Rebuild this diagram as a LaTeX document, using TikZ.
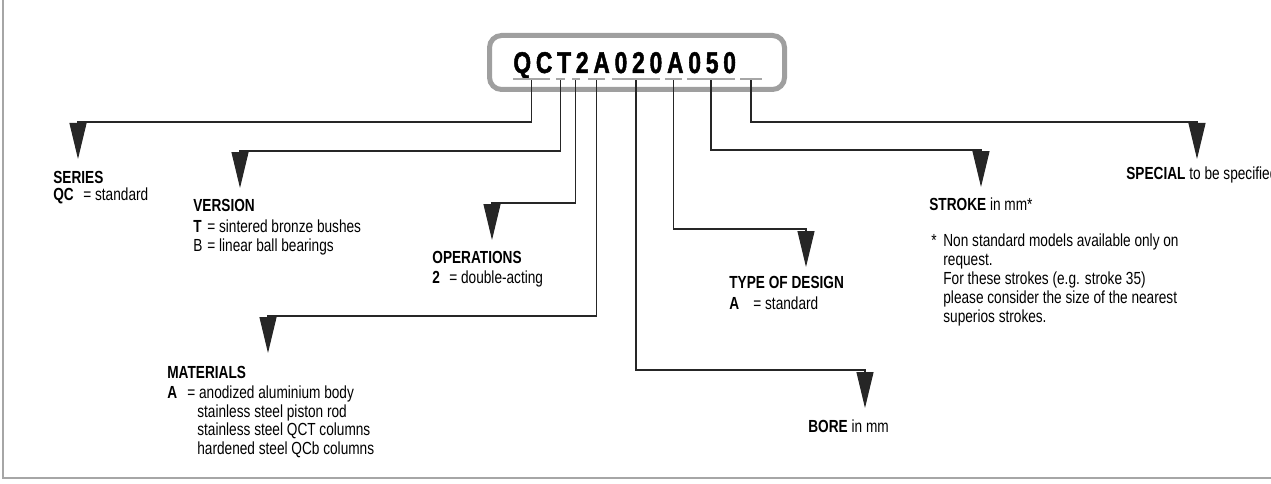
\documentclass[tikz,border=0pt]{standalone}
\usepackage{fontspec}
\setmainfont[FakeStretch=0.78]{Liberation Sans}
\newfontfamily\codefont[FakeStretch=0.76,LetterSpace=16,FakeBold=1.5]{Liberation Sans}
\usetikzlibrary{arrows.meta}
\tikzset{every picture/.style={line width=0.75pt}}
\newcommand{\codeitem}[2]{\makebox[#1][l]{#2}=\ }

\begin{document}
\begin{tikzpicture}[x=1pt,y=-1pt,
        seg/.style={fill=gray!70, inner sep=0pt, minimum height=2pt},
        link/.style={draw=black!85, line width=1.1pt, -{Triangle[width=17pt,length=36pt]}},
        lbl/.style={anchor=north west, inner sep=0pt, align=left, font=\fontsize{17.5}{18.5}\selectfont},
        keybox/.style={draw=gray!75, line width=5pt, rounded corners=12pt}]
        \useasboundingbox (0,0) rectangle (1271,484);
        \draw[gray!70, line width=2pt] (3,0) -- (3,478) -- (1271,478);

        % order code
        \node[keybox, minimum width=295pt, minimum height=54pt] (box) at (637,62.5) {};
        \node[anchor=base west, inner sep=0pt, font=\codefont\fontsize{30}{30}\selectfont\bfseries] (code) at (513,73) {QCT2A020A050};

        \node[seg, minimum width=37pt] (qc) at (531.5,79) {};
        \node[seg, minimum width=9pt] (tv) at (560.5,79) {};
        \node[seg, minimum width=8pt] (op) at (575.5,79) {};
        \node[seg, minimum width=17pt] (mat) at (596.5,79) {};
        \node[seg, minimum width=48pt] (bo) at (636,79) {};
        \node[seg, minimum width=17pt] (ty) at (673.5,79) {};
        \node[seg, minimum width=48pt] (st) at (711,79) {};
        \node[seg, minimum width=22pt] (sp) at (751,79) {};

        % arrow heads
        \coordinate (series-a) at (78,122);
        \coordinate (version-a) at (240,151);
        \coordinate (operations-a) at (492,203);
        \coordinate (materials-a) at (268,316);
        \coordinate (bore-a) at (865,370);
        \coordinate (design-a) at (806,229);
        \coordinate (stroke-a) at (981,150);
        \coordinate (special-a) at (1197,122);

        % labels
        \node[lbl] (series) at (53,171) {\textbf{SERIES}\\[-2pt]\codeitem{30pt}{\textbf{QC}}standard};
        \node[lbl] (version) at (193,199) {\textbf{VERSION}\\[2.5pt]\codeitem{14pt}{\textbf{T}}sintered bronze bushes\\\codeitem{14pt}{B}linear ball bearings};
        \node[lbl] (operations) at (432,251) {\textbf{OPERATIONS}\\[1.5pt]\codeitem{17pt}{\textbf{2}}double-acting};
        \node[lbl] (materials) at (167,366) {\textbf{MATERIALS}\\[1.5pt]\codeitem{20pt}{\textbf{A}}anodized aluminium body\\\hspace*{30pt}stainless steel piston rod\\\hspace*{30pt}stainless steel QCT columns\\\hspace*{30pt}hardened steel QCb columns};
        \node[lbl] (design) at (729,276) {\textbf{TYPE OF DESIGN}\\[2.5pt]\codeitem{24pt}{\textbf{A}}standard};
        \node[lbl] (bore) at (808,419) {\textbf{BORE} in mm};
        \node[lbl] (stroke) at (929,197) {\textbf{STROKE} in mm*};
        \node[lbl, font=\fontsize{17.5}{19}\selectfont] (note) at (931,233) {\makebox[12pt][l]{*}Non standard models available only on\\\hspace*{12pt}request.\\\hspace*{12pt}For these strokes (e.g. stroke 35)\\\hspace*{12pt}please consider the size of the nearest\\\hspace*{12pt}superios strokes.};
        \node[lbl] (special) at (1126,166) {\textbf{SPECIAL} to be specified};

        % connectors
        \draw[link] (qc) |- (series-a) -- ++(0,37);
        \draw[link] (tv) |- (version-a) -- ++(0,37);
        \draw[link] (op) |- (operations-a) -- ++(0,37);
        \draw[link] (mat) |- (materials-a) -- ++(0,37);
        \draw[link] (bo) |- (bore-a) -- ++(0,38);
        \draw[link] (ty) |- (design-a) -- ++(0,38);
        \draw[link] (st) |- (stroke-a) -- ++(0,37);
        \draw[link] (sp) |- (special-a) -- ++(0,37);
\end{tikzpicture}
\end{document}
